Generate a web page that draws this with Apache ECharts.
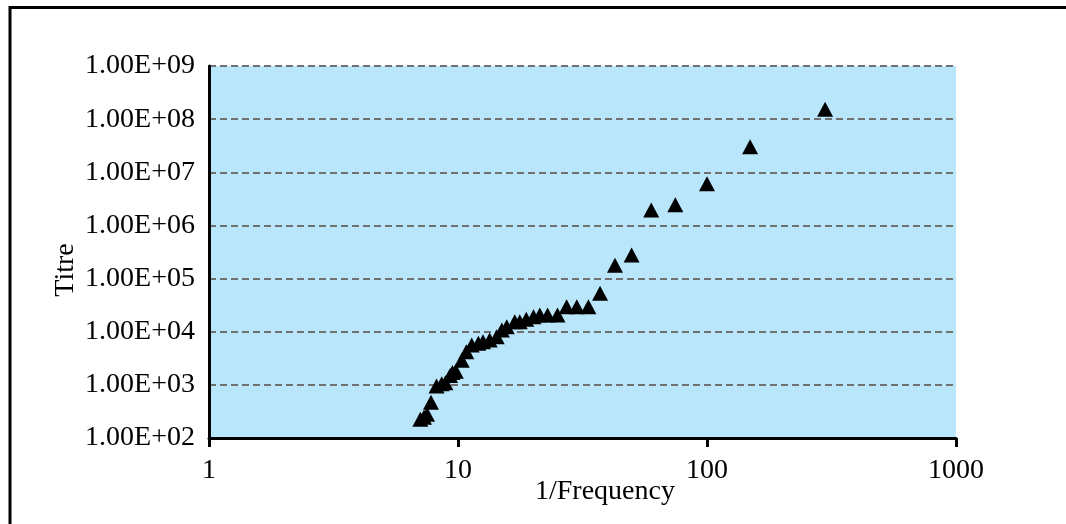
<!DOCTYPE html>
<html>
<head>
<meta charset="utf-8">
<script src="https://cdn.jsdelivr.net/npm/echarts@6/dist/echarts.min.js"></script>
<style>
html,body{margin:0;padding:0;background:#fff;}
#chart{width:1066px;height:524px;}
</style>
</head>
<body>
<div id="chart"></div>
<script>
// 1/Frequency values
const freqInv = [7.06, 7.3, 7.51, 7.79, 8.2, 8.6, 8.9, 9.29, 9.5, 9.8, 10.35, 10.8, 11.35, 12.07, 12.6, 13.4, 14.3, 15.0, 15.7, 16.9, 17.7, 18.8, 20.1, 21.3, 22.9, 25.1, 27.3, 30, 33.4, 37.2, 42.7, 49.8, 59.7, 74.6, 100, 149, 298];
// Titre values
const titre = [226, 245, 280, 470, 950, 1050, 1100, 1500, 1700, 1800, 2900, 4200, 5600, 6050, 6500, 7000, 8000, 10800, 12400, 15400, 15400, 17100, 19200, 20700, 20700, 20700, 29600, 29600, 29600, 53000, 178000, 278000, 1950000, 2450000, 6100000, 30300000, 153000000];
const xTicks = ['1', '10', '100', '1000'];
const xName = '1/Frequency';
const yName = 'Titre';

const FONT = 'Liberation Serif';
const points = freqInv.map((x, i) => [x, titre[i]]);

function yFmt(v) {
  const e = Math.round(Math.log10(v));
  return '1.00E+' + (e < 10 ? '0' + e : String(e));
}

const chart = echarts.init(document.getElementById('chart'), null, {renderer: 'canvas'});
chart.setOption({
  animation: false,
  backgroundColor: '#ffffff',
  grid: {
    left: 209, top: 66, width: 747, height: 372,
    show: true, backgroundColor: '#b9e6fa', borderWidth: 0
  },
  xAxis: {
    type: 'log', logBase: 10, min: 1, max: 1000,
    name: xName, nameLocation: 'middle', nameGap: 40, nameMoveOverlap: false,
    nameTextStyle: {fontFamily: FONT, fontSize: 28, color: '#000', padding: [0, 0, 0, 45]},
    axisLine: {show: true, onZero: false, lineStyle: {color: '#000', width: 3}},
    axisTick: {show: true, inside: false, length: 9, lineStyle: {color: '#000', width: 3}},
    axisLabel: {
      fontFamily: FONT, fontSize: 28, color: '#000', margin: 19,
      formatter: function (v) { const i = Math.round(Math.log10(v)); return xTicks[i]; }
    },
    splitLine: {show: false}
  },
  yAxis: {
    type: 'log', logBase: 10, min: 100, max: 1e9,
    name: yName, nameLocation: 'middle', nameGap: 129, nameRotate: 90, nameMoveOverlap: false,
    nameTextStyle: {fontFamily: FONT, fontSize: 28, color: '#000', padding: [0, 36, 0, 0]},
    axisLine: {show: true, onZero: false, lineStyle: {color: '#000', width: 3}},
    axisTick: {show: false},
    axisLabel: {fontFamily: FONT, fontSize: 28, color: '#000', margin: 14, formatter: yFmt},
    splitLine: {show: true, lineStyle: {color: '#707070', width: 2, type: [7, 4]}}
  },
  series: [{
    type: 'scatter',
    data: points,
    symbol: 'triangle',
    symbolSize: [16, 15],
    itemStyle: {color: '#000', opacity: 1},
    z: 5
  }],
  graphic: [{
    type: 'rect',
    shape: {x: 10, y: 7.5, width: 1200, height: 700},
    style: {fill: 'none', stroke: '#000', lineWidth: 3},
    silent: true
  }]
});
</script>
</body>
</html>
